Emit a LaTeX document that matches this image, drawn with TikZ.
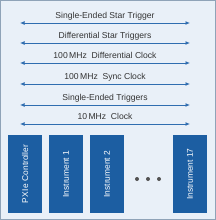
\documentclass[tikz,border=0pt]{standalone}
\usepackage{fontspec}
\setmainfont{Liberation Sans}
\usetikzlibrary{arrows.meta}
\definecolor{bgc}{HTML}{E9F0F8}
\definecolor{bdc}{HTML}{8FA3B8}
\definecolor{arc}{HTML}{2F6DB0}
\definecolor{boxc}{HTML}{1C5EA2}
\definecolor{txc}{HTML}{333333}
\tikzset{
  bus/.style={arc, line width=0.9pt, {Latex[length=4.5pt,width=4pt]}-{Latex[length=4.5pt,width=4pt]}},
  buslabel/.style={text=txc, font=\fontsize{8.6}{9}\selectfont, inner sep=0pt, anchor=base},
  slot/.style={draw=none, fill=boxc, minimum width=34pt, minimum height=78pt, inner sep=0pt},
  slotlabel/.style={text=white, font=\fontsize{8.4}{9}\selectfont, rotate=90, inner sep=0pt},
  dot/.style={circle, fill=txc!85, inner sep=0pt, minimum size=4pt}
}
\begin{document}
\begin{tikzpicture}[x=1pt,y=-1pt]
\path[use as bounding box] (0,0) rectangle (216,220);
\node[draw=bdc, fill=bgc, line width=1.2pt, minimum width=214.8pt, minimum height=218.8pt, inner sep=0pt] (frame) at (108,110) {};
\foreach \i/\y/\t in {1/23/Single-Ended Star Trigger, 2/43/Differential Star Triggers, 3/63/100\,MHz\ \ Differential Clock, 4/84/100\,MHz\ \ Sync Clock, 5/105/Single-Ended Triggers, 6/124/10\,MHz\ \ Clock}{
  \coordinate (l\i) at (20,\y);
  \coordinate (r\i) at (190,\y);
  \draw[bus] (l\i) -- (r\i);
  \node[buslabel] (t\i) at (105,\y-5) {\t};
}
\node[slot] (s0) at (25,174) {};
\node[slot] (s1) at (66,174) {};
\node[slot] (s2) at (107,174) {};
\node[slot] (s3) at (190,174) {};
\node[slotlabel] (n0) at (s0) {PXI\,e Controller};
\node[slotlabel] (n1) at (s1) {Instrument 1};
\node[slotlabel] (n2) at (s2) {Instrument 2};
\node[slotlabel] (n3) at (s3) {Instrument 17};
\node[dot] (d1) at (137,179) {};
\node[dot] (d2) at (148,179) {};
\node[dot] (d3) at (159,179) {};
\end{tikzpicture}
\end{document}
